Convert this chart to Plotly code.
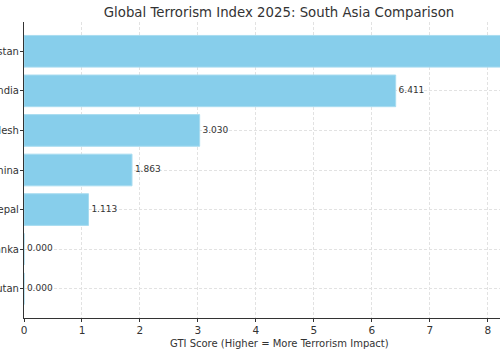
import plotly.graph_objects as go

countries = ["Pakistan", "India", "Bangladesh", "China", "Nepal", "Sri Lanka", "Bhutan"]
gti_scores = [8.374, 6.411, 3.030, 1.863, 1.113, 0.0, 0.0]
x_ticks = [0, 1, 2, 3, 4, 5, 6, 7, 8]

font_family = "DejaVu Sans"
dark = "#333333"

fig = go.Figure()
fig.add_trace(go.Bar(
    x=gti_scores, y=countries, orientation="h",
    marker=dict(color="#87CEEB", line=dict(color="#a8dcf0", width=1)),
    width=0.8, cliponaxis=True, showlegend=False, hoverinfo="skip",
))
fig.add_trace(go.Scatter(
    x=gti_scores, y=countries, mode="markers+text",
    marker=dict(size=3, opacity=0),
    text=[f"{v:.3f}" for v in gti_scores],
    textposition="middle right",
    textfont=dict(family=font_family, size=9, color=dark),
    cliponaxis=True, showlegend=False, hoverinfo="skip",
))

grid = dict(showgrid=True, gridcolor="#e2e2e2", griddash="3px,2px", gridwidth=0.7)

fig.update_layout(
    width=500, height=350,
    margin=dict(l=24, r=0, t=22, b=32),
    paper_bgcolor="white", plot_bgcolor="white",
    font=dict(family=font_family, color=dark),
    title=dict(text="Global Terrorism Index 2025: South Asia Comparison",
               x=0.558, xref="container", xanchor="center",
               y=0.965, yref="container", yanchor="middle",
               font=dict(size=13.3, color=dark)),
    bargap=0.2,
)
fig.update_xaxes(
    range=[0, 8.21], tickvals=x_ticks, ticktext=[str(t) for t in x_ticks],
    showline=True, linecolor=dark, linewidth=1.2, mirror=False,
    ticks="outside", ticklen=3, tickcolor=dark, tickwidth=1,
    tickfont=dict(size=10.5, color=dark), ticklabelstandoff=-1,
    zeroline=False, automargin=False, **grid,
)
fig.update_yaxes(
    type="category", categoryorder="array", categoryarray=countries,
    range=[6.74, -0.74],
    showline=True, linecolor=dark, linewidth=1.2,
    ticks="outside", ticklen=3, tickcolor=dark, tickwidth=1,
    tickfont=dict(size=10, color=dark), ticklabelstandoff=-1,
    zeroline=False, automargin=False, **grid,
)
fig.add_annotation(
    text="GTI Score (Higher = More Terrorism Impact)",
    xref="paper", yref="paper", x=(279 - 24) / 476, y=-0.06,
    xanchor="center", yanchor="top", showarrow=False,
    font=dict(family=font_family, size=10, color=dark),
)

fig.write_html("out.html")
